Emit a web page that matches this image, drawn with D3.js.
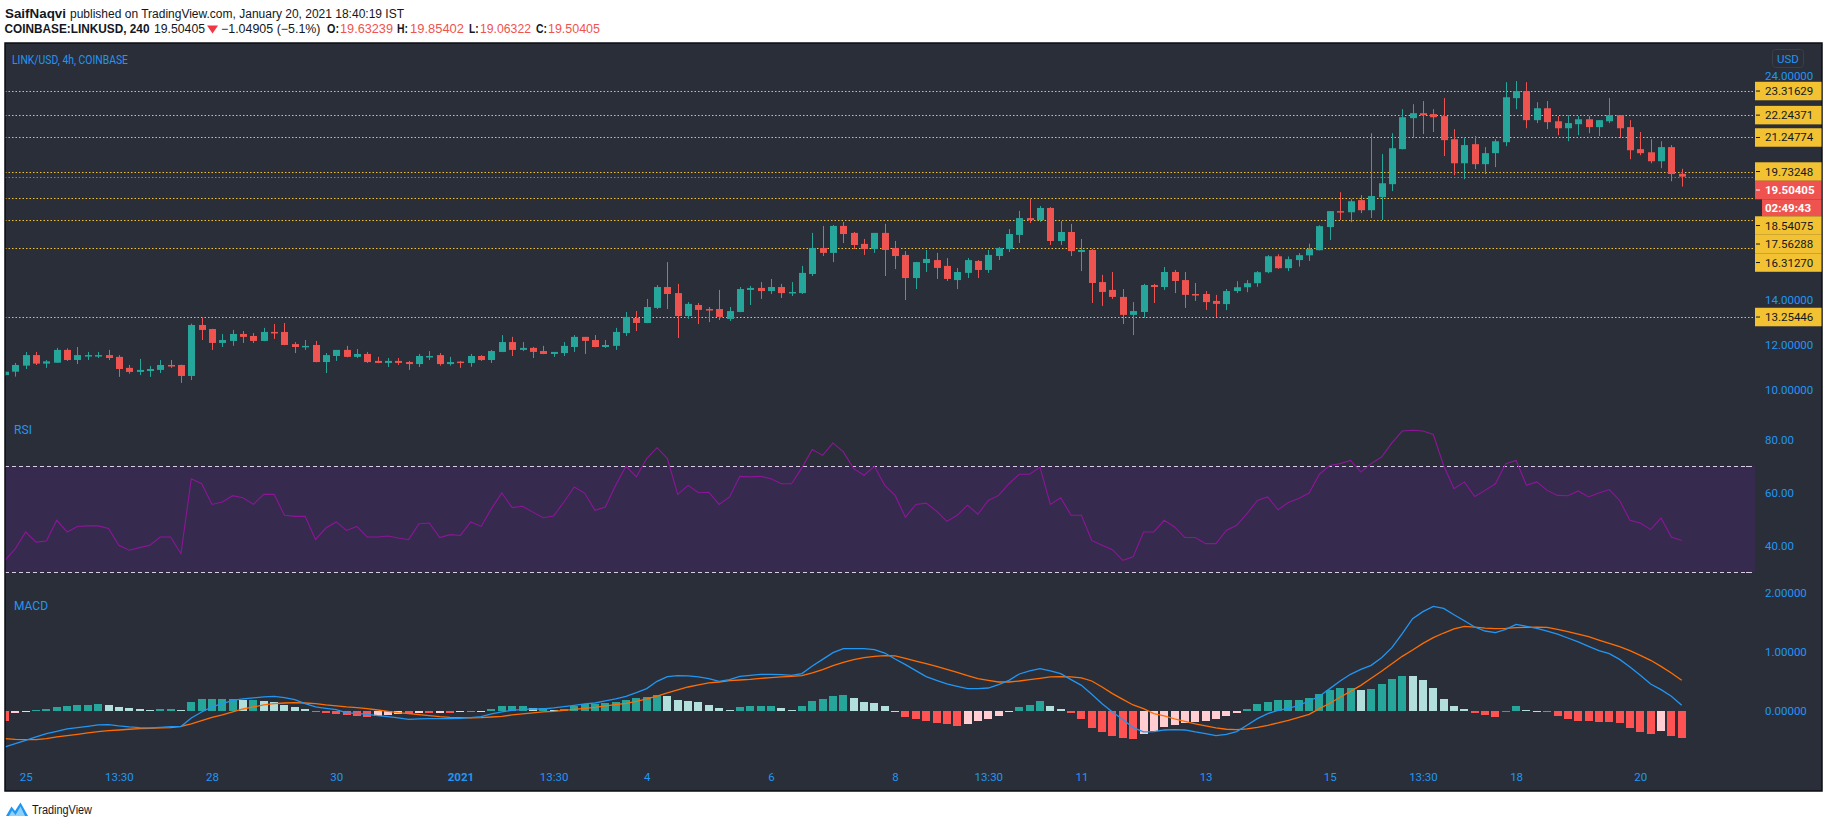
<!DOCTYPE html>
<html><head><meta charset="utf-8">
<script src="https://cdn.jsdelivr.net/npm/d3@7"></script>
<style>body{margin:0;background:#fff;}svg{display:block;}</style>
</head><body>
<svg id="c" width="1828" height="828"></svg>
<script>
// ---------------- DATA ----------------
const opens = [
10.67,10.82,11.09,11.56,11.18,11.22,11.79,11.34,11.52,11.52,
11.56,11.48,10.99,10.81,10.85,10.90,11.12,11.12,10.63,12.90,
12.72,12.10,12.19,12.50,12.41,12.19,12.59,12.59,12.05,11.92,
12.01,11.25,11.52,11.79,11.48,11.61,11.30,11.21,11.30,11.25,
11.16,11.48,11.56,11.16,11.27,11.21,11.52,11.34,11.70,12.14,
11.79,11.88,11.74,11.61,11.65,11.92,12.37,12.23,11.92,11.97,
12.54,13.21,12.99,13.66,14.59,14.32,13.30,13.79,13.61,13.61,
13.17,13.48,14.46,14.55,14.41,14.59,14.32,14.32,15.17,16.33,
16.11,17.31,17.00,16.51,16.28,17.00,16.33,16.02,14.99,15.66,
15.79,15.53,14.90,15.22,15.75,15.35,15.97,16.28,16.91,17.66,
17.57,18.11,16.64,17.04,16.15,16.24,14.81,14.46,14.15,13.35,
13.48,14.68,14.59,15.26,14.90,14.28,14.28,13.97,13.83,14.41,
14.58,14.76,15.25,15.96,15.43,15.79,16.00,16.23,17.26,17.97,
17.92,18.46,18.01,18.59,19.17,20.73,22.11,22.33,22.29,22.20,
21.17,20.10,20.95,20.06,20.55,21.04,23.00,23.31,22.02,22.55,
21.97,21.66,21.84,22.06,21.71,21.97,22.24,21.71,20.73,20.59,
20.19,20.82,19.63239];
const highs = [
10.86,11.21,11.70,11.70,11.34,11.88,11.86,11.92,11.70,11.70,
11.79,11.56,11.12,11.39,11.08,11.34,11.34,11.13,12.96,13.21,
12.73,12.50,12.68,12.63,12.54,12.77,12.94,12.99,12.14,12.23,
12.19,11.65,11.79,11.97,11.83,11.70,11.48,11.43,11.43,11.30,
11.61,11.74,11.65,11.48,11.30,11.61,11.56,11.79,12.45,12.37,
12.14,11.92,11.97,11.70,12.14,12.45,12.37,12.45,12.23,12.77,
13.48,13.52,14.06,14.68,15.70,14.73,13.92,13.88,13.70,14.46,
13.70,14.59,14.64,14.81,14.95,14.73,14.81,15.53,17.00,17.31,
17.35,17.49,17.04,16.73,17.00,17.40,16.64,16.19,15.71,16.24,
16.11,15.88,15.44,15.88,15.79,16.24,16.37,17.17,17.98,18.51,
18.20,18.15,17.53,17.40,16.73,16.28,15.13,15.26,14.50,13.92,
14.73,14.73,15.48,15.35,15.26,14.77,14.41,14.24,14.50,14.85,
14.90,15.30,16.01,16.05,15.95,16.10,16.52,17.34,17.97,18.81,
18.50,18.68,21.44,20.51,21.44,22.51,22.73,22.87,22.51,23.00,
21.62,21.22,21.31,20.82,21.17,23.71,23.76,23.71,22.82,22.87,
22.20,22.24,22.20,22.20,22.02,23.00,22.25,22.02,21.49,21.17,
21.08,20.91,19.85402];
const lows = [
10.62,10.60,10.94,11.12,10.99,11.22,11.30,11.16,11.34,11.43,
11.34,10.59,10.73,10.67,10.59,10.76,10.99,10.32,10.45,12.23,
11.79,11.92,11.97,12.10,12.10,12.18,12.28,12.00,11.65,11.79,
11.24,10.76,11.30,11.46,11.43,11.21,11.20,11.03,11.12,10.90,
11.03,11.34,11.09,11.09,10.99,11.04,11.30,11.21,11.69,11.52,
11.74,11.43,11.60,11.48,11.52,11.70,11.61,11.91,11.88,11.79,
12.41,12.63,12.98,13.61,13.61,12.32,13.17,12.94,13.03,13.12,
13.08,13.47,13.79,14.06,14.28,14.10,14.19,14.28,15.08,15.97,
15.70,16.55,16.28,16.02,16.11,15.08,15.39,14.01,14.50,15.26,
14.95,14.86,14.50,14.99,14.99,15.22,15.79,16.15,16.55,17.44,
17.49,16.46,16.46,15.97,15.30,13.88,13.75,14.06,12.94,12.45,
13.21,13.88,14.46,14.32,13.66,13.97,13.57,13.26,13.56,14.32,
14.36,14.60,15.20,15.40,15.30,15.50,15.75,16.22,16.68,17.57,
17.48,17.88,17.66,17.57,18.86,20.72,21.22,21.40,21.49,20.42,
19.57,19.39,19.84,19.62,19.93,20.86,22.51,21.66,21.89,21.62,
21.35,21.08,21.35,21.44,21.31,21.89,21.22,20.28,20.46,20.10,
19.88,19.30,19.06322];
const closes = [
10.82,11.12,11.56,11.18,11.28,11.79,11.34,11.56,11.56,11.56,
11.43,10.94,10.81,10.90,10.94,11.12,11.05,10.63,12.90,12.68,
12.10,12.23,12.50,12.37,12.19,12.59,12.54,12.01,11.92,11.97,
11.25,11.56,11.79,11.48,11.61,11.25,11.21,11.30,11.21,11.16,
11.52,11.52,11.16,11.25,11.21,11.52,11.34,11.74,12.14,11.79,
11.88,11.70,11.61,11.70,11.97,12.37,12.19,11.92,12.01,12.59,
13.26,12.99,13.70,14.59,14.28,13.30,13.84,13.57,13.57,13.26,
13.52,14.50,14.55,14.41,14.59,14.32,14.37,15.22,16.33,16.11,
17.31,16.95,16.46,16.28,17.00,16.24,15.97,14.99,15.70,15.84,
15.44,14.95,15.26,15.79,15.35,16.02,16.33,16.95,17.66,17.57,
18.11,16.64,17.04,16.19,16.24,14.77,14.37,14.15,13.35,13.52,
14.68,14.59,15.26,14.86,14.24,14.24,13.92,13.84,14.41,14.58,
14.76,15.25,15.96,15.43,15.83,16.01,16.28,17.30,17.97,17.92,
18.41,18.01,18.64,19.21,20.77,22.15,22.33,22.24,22.15,21.13,
20.10,20.91,20.06,20.55,21.08,23.04,23.31,22.02,22.55,21.93,
21.66,21.89,22.06,21.71,22.02,22.24,21.66,20.68,20.55,20.19,
20.82,19.62,19.50405];
const rsiValues = [
34.4,38.8,45.1,41.3,41.7,49.5,45.1,47.2,47.4,47.4,
46.4,40.1,38.2,39.2,40.1,43.2,43.2,36.9,65.2,63.3,
55.5,56.4,58.8,58.0,55.5,59.3,59.3,51.4,51.0,51.0,
42.3,46.6,48.9,45.7,47.2,43.2,43.2,43.6,42.8,42.2,
48.2,48.5,43.0,44.1,43.8,48.9,47.2,53.9,59.8,54.3,
54.8,52.6,50.5,51.1,56.4,62.1,59.8,53.3,54.5,62.7,
69.9,65.9,72.8,76.9,72.8,59.3,62.7,59.9,60.1,55.5,
58.3,66.1,65.9,66.1,65.2,63.3,63.3,69.4,76.2,74.0,
78.7,75.3,69.0,66.5,69.9,62.7,58.9,50.7,55.5,56.0,
53.0,49.1,51.4,55.2,51.8,57.0,58.9,63.3,66.9,66.9,
69.6,55.5,58.0,51.4,51.4,41.9,40.1,38.4,34.4,35.7,
45.1,45.1,49.5,47.0,43.0,43.0,40.7,40.7,45.7,47.6,
52.0,57.0,58.3,53.5,56.2,57.7,59.8,66.9,70.2,70.9,
72.1,67.7,70.9,73.4,78.7,83.2,83.5,83.2,81.9,70.2,
61.4,64.0,58.5,60.8,63.3,70.9,72.1,62.7,64.0,60.8,
58.9,58.8,60.6,58.3,59.8,61.1,57.0,49.5,48.5,46.0,
50.4,43.2,41.9];
const macdValues = [
-0.601,-0.545,-0.489,-0.433,-0.376,-0.337,-0.298,-0.275,-0.253,-0.230,
-0.225,-0.247,-0.264,-0.275,-0.281,-0.270,-0.258,-0.258,-0.112,-0.011,
0.073,0.129,0.185,0.208,0.225,0.242,0.253,0.230,0.197,0.129,
0.073,0.051,0.028,-0.028,-0.034,-0.051,-0.073,-0.090,-0.112,-0.135,
-0.129,-0.124,-0.124,-0.124,-0.118,-0.107,-0.090,-0.045,-0.011,0.017,
0.034,0.039,0.039,0.056,0.079,0.101,0.124,0.140,0.174,0.208,
0.253,0.315,0.382,0.506,0.584,0.601,0.596,0.579,0.551,0.506,
0.534,0.590,0.607,0.624,0.624,0.618,0.607,0.635,0.764,0.876,
0.989,1.056,1.056,1.056,1.039,0.983,0.882,0.787,0.685,0.584,
0.522,0.461,0.421,0.382,0.382,0.393,0.449,0.522,0.629,0.680,
0.719,0.680,0.635,0.534,0.438,0.287,0.129,-0.011,-0.140,-0.275,
-0.348,-0.343,-0.315,-0.309,-0.315,-0.348,-0.376,-0.410,-0.388,-0.343,
-0.236,-0.124,-0.039,0.017,0.051,0.101,0.174,0.253,0.382,0.511,
0.624,0.708,0.775,0.904,1.073,1.309,1.562,1.680,1.770,1.736,
1.629,1.528,1.421,1.354,1.326,1.382,1.466,1.433,1.399,1.354,
1.303,1.236,1.169,1.096,1.022,0.972,0.876,0.747,0.607,0.461,
0.365,0.253,0.101];
const signalValues = [
-0.461,-0.472,-0.478,-0.478,-0.461,-0.433,-0.410,-0.388,-0.365,-0.343,
-0.326,-0.315,-0.303,-0.292,-0.287,-0.281,-0.275,-0.253,-0.213,-0.157,
-0.101,-0.062,-0.011,0.039,0.073,0.107,0.129,0.140,0.146,0.140,
0.129,0.107,0.090,0.073,0.062,0.045,0.022,0.000,-0.022,-0.039,
-0.056,-0.073,-0.090,-0.101,-0.107,-0.112,-0.107,-0.096,-0.084,-0.062,
-0.045,-0.028,-0.011,0.000,0.017,0.034,0.051,0.067,0.090,0.112,
0.135,0.169,0.208,0.258,0.309,0.360,0.410,0.444,0.478,0.494,
0.517,0.528,0.539,0.556,0.567,0.579,0.590,0.601,0.646,0.702,
0.770,0.826,0.871,0.904,0.927,0.938,0.933,0.893,0.848,0.803,
0.758,0.708,0.657,0.601,0.551,0.522,0.494,0.494,0.511,0.534,
0.556,0.579,0.584,0.579,0.562,0.511,0.410,0.298,0.202,0.107,
0.045,-0.039,-0.079,-0.129,-0.169,-0.213,-0.247,-0.281,-0.303,-0.309,
-0.298,-0.270,-0.236,-0.197,-0.152,-0.101,-0.051,0.045,0.135,0.236,
0.337,0.438,0.556,0.674,0.803,0.927,1.034,1.146,1.242,1.320,
1.388,1.433,1.421,1.404,1.393,1.399,1.410,1.416,1.421,1.416,
1.382,1.343,1.303,1.258,1.202,1.146,1.090,1.022,0.944,0.860,
0.758,0.646,0.522];
const histValues = [
-0.157,-0.028,-0.017,0.022,0.034,0.079,0.090,0.101,0.112,0.118,
0.112,0.079,0.056,0.034,0.028,0.034,0.034,0.022,0.163,0.202,
0.208,0.208,0.208,0.191,0.191,0.169,0.152,0.112,0.067,0.034,
-0.011,-0.034,-0.045,-0.062,-0.079,-0.090,-0.073,-0.056,-0.039,-0.039,
-0.022,-0.034,-0.028,-0.034,-0.017,-0.017,-0.006,0.034,0.084,0.084,
0.084,0.056,0.056,0.028,0.045,0.090,0.124,0.124,0.135,0.152,
0.191,0.219,0.236,0.281,0.258,0.191,0.180,0.152,0.112,0.051,
0.028,0.067,0.090,0.090,0.090,0.056,0.028,0.096,0.169,0.213,
0.258,0.270,0.225,0.152,0.146,0.090,0.011,-0.101,-0.135,-0.169,
-0.197,-0.213,-0.242,-0.213,-0.169,-0.129,-0.073,-0.017,0.079,0.112,
0.169,0.090,0.039,-0.022,-0.129,-0.281,-0.354,-0.410,-0.449,-0.466,
-0.382,-0.326,-0.270,-0.225,-0.202,-0.185,-0.157,-0.129,-0.073,-0.028,
0.034,0.124,0.163,0.191,0.191,0.197,0.219,0.292,0.360,0.393,
0.393,0.360,0.376,0.461,0.545,0.601,0.590,0.534,0.393,0.208,
0.096,0.034,-0.034,-0.062,-0.090,0.011,0.090,0.022,0.011,-0.017,
-0.073,-0.124,-0.157,-0.169,-0.180,-0.180,-0.202,-0.281,-0.354,-0.382,
-0.326,-0.410,-0.449];
const timeTickIndex = [2,11,20,32,44,53,62,74,86,95,104,116,128,137,146,158];
const timeTickLabels = ["25","13:30","28","30","2021","13:30","4","6","8","13:30","11","13","15","13:30","18","20"];
const levelValues = [23.31629,22.24371,21.24774,19.73248,18.54075,17.56288,16.31270,13.25446];
const lastPrice = 19.50405;
const countdownText = "02:49:43";
const priceTicks = [10,12,14,16,18,20,22,24];
const rsiTicks = [40,60,80];
const rsiBand = [30,70];
const macdTicks = [0,1,2];

// ---------------- LAYOUT ----------------
const svg = d3.select("#c");
const F = {x0:5, x1:1822, y0:43, y1:791};
const plotR = 1755;
const paneMain = [43,414], paneRsi = [416,588], paneMacd = [590,760];
const UP = "#26A69A", DOWN = "#EF5350", BLUE = "#2196F3", GOLD = "#F2C232";
const FONT = "Roboto, 'Liberation Sans', Arial, sans-serif";

const n = closes.length;
const x = d3.scaleLinear().domain([0, n-1]).range([5, 5 + 10.35*(n-1)]);
const y = d3.scaleLinear().domain([10, 24]).range([390.12, 75.68]);
const yR = d3.scaleLinear().domain([40, 80]).range([545.5, 439.5]);
const yM = d3.scaleLinear().domain([0, 2]).range([711.3, 592.7]);

svg.append("rect").attr("width",1828).attr("height",828).attr("fill","#fff");
svg.append("rect").attr("x",F.x0).attr("y",F.y0).attr("width",F.x1-F.x0).attr("height",F.y1-F.y0)
  .attr("fill","#2a2e39").attr("stroke","#0b0d12").attr("stroke-width",1.5);

const defs = svg.append("defs");
function clip(id, y0, y1){
  defs.append("clipPath").attr("id",id).append("rect")
    .attr("x",F.x0+0.8).attr("y",y0).attr("width",plotR-F.x0-0.8).attr("height",y1-y0);
}
clip("cm", paneMain[0]+0.8, paneMain[1]); clip("cr", paneRsi[0], paneRsi[1]); clip("cd", paneMacd[0], paneMacd[1]);

// ---------------- HEADER ----------------
function txt(s, x0, w, yb, o={}){
  const t = svg.append("text").attr("x",x0).attr("y",yb).text(s)
    .attr("font-family","'Liberation Sans Narrow','Liberation Sans',Arial,sans-serif")
    .attr("font-size",o.size||12).attr("font-weight",o.bold?"bold":"normal")
    .attr("fill",o.color||"#131722");
  if (w) t.attr("textLength",w).attr("lengthAdjust","spacingAndGlyphs");
  return t;
}
txt("SaifNaqvi",5,61,17.5,{bold:true});
txt("published on TradingView.com, January 20, 2021 18:40:19 IST",70,334,17.5);
txt("COINBASE:LINKUSD, 240",4.5,145,33.3,{bold:true});
txt("19.50405",154,51,33.3);
svg.append("path").attr("d","M207,25.5 L218,25.5 L212.5,33.5 Z").attr("fill","#F23645");
txt("\u22121.04905 (\u22125.1%)",221,99.5,33.3);
const red = "#EF5350";
txt("O:",327,12,33.3,{bold:true}); txt("19.63239",340,53,33.3,{color:red});
txt("H:",397,11,33.3,{bold:true}); txt("19.85402",410,54,33.3,{color:red});
txt("L:",469,9.6,33.3,{bold:true}); txt("19.06322",480,51,33.3,{color:red});
txt("C:",536,11,33.3,{bold:true}); txt("19.50405",548,52,33.3,{color:red});

// ---------------- RSI band ----------------
const gR = svg.append("g").attr("clip-path","url(#cr)");
gR.append("rect").attr("x",F.x0).attr("width",plotR-F.x0)
  .attr("y",yR(rsiBand[1])).attr("height",yR(rsiBand[0])-yR(rsiBand[1]))
  .attr("fill","rgba(153,21,255,0.11)");
rsiBand.forEach(v=>{
  gR.append("line").attr("x1",F.x0).attr("x2",plotR).attr("y1",Math.round(yR(v))+0.5).attr("y2",Math.round(yR(v))+0.5)
    .attr("stroke","#d9cde6").attr("stroke-width",1).attr("stroke-dasharray","4,3");
  svg.append("line").attr("x1",plotR-9).attr("x2",plotR-5).attr("y1",Math.round(yR(v))+0.5).attr("y2",Math.round(yR(v))+0.5)
    .attr("stroke","#d9cde6");
});
gR.append("path").datum(rsiValues)
  .attr("d", d3.line().x((d,i)=>x(i)).y(d=>yR(d)))
  .attr("fill","none").attr("stroke","#8E1599").attr("stroke-width",1.1);

// ---------------- MACD ----------------
const gD = svg.append("g").attr("clip-path","url(#cd)");
gD.selectAll("rect.h").data(histValues).enter().append("rect")
  .attr("x",(d,i)=>Math.round(x(i)-4)).attr("width",8)
  .attr("y",d=>Math.min(yM(0),yM(d))).attr("height",d=>Math.max(1,Math.abs(yM(d)-yM(0))))
  .attr("shape-rendering","crispEdges")
  .attr("fill",(d,i)=>{
    const p = i>0 ? histValues[i-1] : d;
    if (d>=0) return d>=p ? "#26A69A" : "#B2DFDB";
    return d<=p ? "#FF5252" : "#FFCDD2";
  });
gD.append("path").datum(signalValues).attr("d", d3.line().x((d,i)=>x(i)).y(d=>yM(d)))
  .attr("fill","none").attr("stroke","#FF6D00").attr("stroke-width",1.3);
gD.append("path").datum(macdValues).attr("d", d3.line().x((d,i)=>x(i)).y(d=>yM(d)))
  .attr("fill","none").attr("stroke","#2196F3").attr("stroke-width",1.3);

// ---------------- MAIN: levels + candles ----------------
const gM = svg.append("g").attr("clip-path","url(#cm)");
levelValues.forEach(v=>{
  const yy = Math.round(y(v))+0.5;
  gM.append("line").attr("x1",F.x0).attr("x2",plotR).attr("y1",yy).attr("y2",yy)
    .attr("stroke",GOLD).attr("stroke-width",1).attr("stroke-dasharray","1.5,2");
});
{
  const yy = Math.round(y(lastPrice))+0.5;
  gM.append("line").attr("x1",F.x0).attr("x2",plotR).attr("y1",yy).attr("y2",yy)
    .attr("stroke","#EF5350").attr("stroke-width",1).attr("stroke-dasharray","1.5,2");
}
const cg = gM.selectAll("g.c").data(closes).enter().append("g");
cg.append("line")
  .attr("x1",(d,i)=>Math.round(x(i))+0.5).attr("x2",(d,i)=>Math.round(x(i))+0.5)
  .attr("y1",(d,i)=>y(highs[i])).attr("y2",(d,i)=>y(lows[i]))
  .attr("stroke",(d,i)=>d>=opens[i]?UP:DOWN).attr("stroke-width",1);
cg.append("rect")
  .attr("x",(d,i)=>Math.round(x(i))-3).attr("width",7)
  .attr("y",(d,i)=>y(Math.max(d,opens[i])))
  .attr("height",(d,i)=>Math.max(1.5,Math.abs(y(d)-y(opens[i]))))
  .attr("fill",(d,i)=>d>=opens[i]?UP:DOWN);

// ---------------- Legends ----------------
txt("LINK/USD, 4h, COINBASE",12,116,64,{color:BLUE,size:12.5}).attr("font-family",FONT);
txt("RSI",14,18,434,{color:BLUE,size:12}).attr("font-family",FONT);
txt("MACD",14,34,609.5,{color:BLUE,size:12}).attr("font-family",FONT);

// ---------------- Price label layout (collision stacking) ----------------
const BH = 18.5;
const labels = levelValues.map(v=>({v, kind:"level", h:BH}));
labels.push({v:lastPrice, kind:"last", h:BH+17});
labels.sort((a,b)=>y(a.v)-y(b.v));
let prevBottom = -1e9;
labels.forEach(l=>{
  let top = y(l.v) - BH/2;
  if (top < prevBottom) top = prevBottom;
  l.top = top; prevBottom = top + l.h;
});
// tick labels hidden under a label box are not drawn (as on the reference)
const visiblePriceTicks = priceTicks.filter(t=>{
  const yt = y(t);
  return !labels.some(l=> yt+5 > l.top && yt-5 < l.top+l.h);
});

// ---------------- Axes ----------------
function styleAxis(g){
  g.select(".domain").remove(); g.selectAll(".tick line").remove();
  g.selectAll("text").attr("fill",BLUE).attr("font-family",FONT).attr("font-size",11.5);
}
svg.append("g").attr("transform",`translate(1765,0)`)
  .call(d3.axisRight(y).tickValues(visiblePriceTicks).tickFormat(d3.format(".5f")).tickSize(0).tickPadding(0))
  .call(styleAxis);
svg.append("g").attr("transform",`translate(1765,0)`)
  .call(d3.axisRight(yR).tickValues(rsiTicks).tickFormat(d3.format(".2f")).tickSize(0).tickPadding(0))
  .call(styleAxis);
svg.append("g").attr("transform",`translate(1765,0)`)
  .call(d3.axisRight(yM).tickValues(macdTicks).tickFormat(d3.format(".5f")).tickSize(0).tickPadding(0))
  .call(styleAxis);
const xa = svg.append("g").attr("transform",`translate(0,773)`)
  .call(d3.axisBottom(x).tickValues(timeTickIndex).tickFormat((d,k)=>timeTickLabels[k]).tickSize(0).tickPadding(0))
  .call(styleAxis);
xa.selectAll("text").attr("font-weight",(d,k)=>timeTickLabels[k]==="2021"?"bold":"normal");

// USD button
svg.append("rect").attr("x",1772.5).attr("y",49.5).attr("width",31).attr("height",18).attr("rx",3)
  .attr("fill","#2a2e39").attr("stroke","#3a3e4a");
svg.append("text").attr("x",1788).attr("y",62.5).attr("text-anchor","middle").text("USD")
  .attr("fill",BLUE).attr("font-family",FONT).attr("font-size",11.5);

// ---------------- Price label boxes ----------------
const fmt = d3.format(".5f");
labels.forEach(l=>{
  if (l.kind==="level"){
    svg.append("rect").attr("x",plotR).attr("y",l.top).attr("width",F.x1-plotR-0.5).attr("height",BH).attr("fill",GOLD);
    svg.append("line").attr("x1",plotR+1).attr("x2",plotR+5).attr("y1",l.top+BH/2).attr("y2",l.top+BH/2).attr("stroke","#131722");
    svg.append("text").attr("x",1765).attr("y",l.top+BH/2+4).text(fmt(l.v))
      .attr("fill","#131722").attr("font-family",FONT).attr("font-size",11.5);
  } else {
    svg.append("rect").attr("x",plotR).attr("y",l.top).attr("width",F.x1-plotR-0.5).attr("height",BH).attr("fill","#EF5350");
    svg.append("line").attr("x1",plotR+1).attr("x2",plotR+5).attr("y1",l.top+BH/2).attr("y2",l.top+BH/2).attr("stroke","#fff");
    svg.append("text").attr("x",1765).attr("y",l.top+BH/2+4).text(fmt(l.v))
      .attr("fill","#fff").attr("font-family",FONT).attr("font-size",11.5).attr("font-weight","bold");
    svg.append("rect").attr("x",plotR+7).attr("y",l.top+BH).attr("width",F.x1-plotR-7.5).attr("height",17).attr("fill","#EF5350");
    svg.append("text").attr("x",1765).attr("y",l.top+BH+12.5).text(countdownText)
      .attr("fill","#fff").attr("font-family",FONT).attr("font-size",11.5).attr("font-weight","bold");
  }
});

// ---------------- Footer ----------------
svg.append("path").attr("d","M6,816 L11.5,806.5 L15,811 L20.5,802.5 L28,816 Z").attr("fill","#2196F3");
svg.append("path").attr("d","M9,816 L12,810.5 L15.5,815 L20.5,806.5 L25,816 Z").attr("fill","#8fd0fb");
txt("TradingView",32,60,813.5,{size:12});
</script>
</body></html>
